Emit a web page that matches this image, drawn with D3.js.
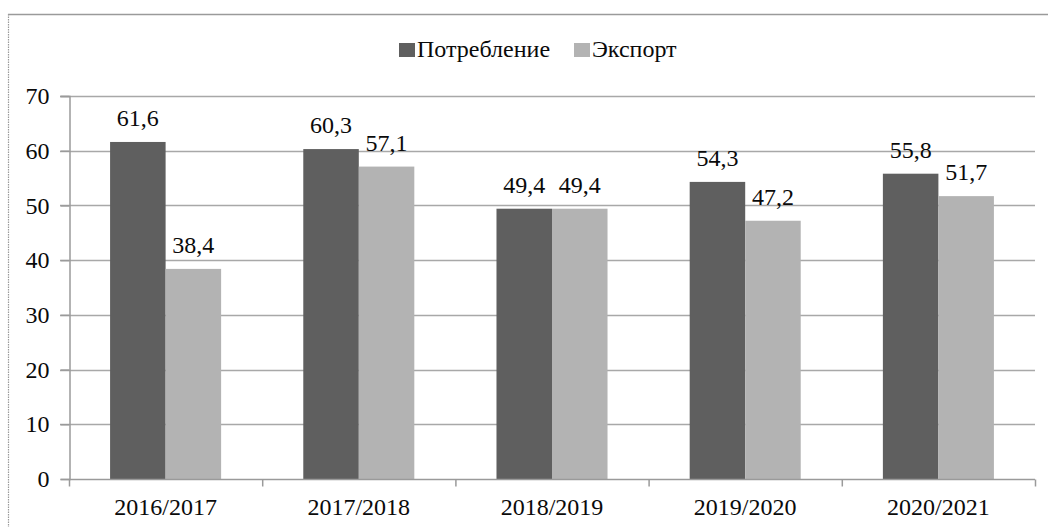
<!DOCTYPE html>
<html>
<head>
<meta charset="utf-8">
<script src="https://cdn.jsdelivr.net/npm/d3@7/dist/d3.min.js"></script>
<style>
  html, body { margin: 0; padding: 0; background: #fff; }
  svg { display: block; }
  svg text { font-family: "Liberation Serif", "DejaVu Serif", serif !important; }
</style>
</head>
<body>
<svg id="chart" width="1048" height="527"></svg>
<script>
const categories = ["2016/2017", "2017/2018", "2018/2019", "2019/2020", "2020/2021"];
const seriesNames = ["Потребление", "Экспорт"];
const consumption = [61.6, 60.3, 49.4, 54.3, 55.8];
const exportVals = [38.4, 57.1, 49.4, 47.2, 51.7];
const yTicks = [0, 10, 20, 30, 40, 50, 60, 70];
const colors = ["#5f5f5f", "#b3b3b3"];

(function () {
const FONT = "Liberation Serif";
const TXT = "#0a0a0a";
const seriesValues = [consumption, exportVals];
const svg = d3.select("#chart");

// frame
svg.append("line").attr("x1", 8).attr("x2", 1048).attr("y1", 14.5).attr("y2", 14.5)
  .attr("stroke", "#9a9a9a").attr("stroke-width", 1.5);
svg.append("line").attr("x1", 8.5).attr("x2", 8.5).attr("y1", 14).attr("y2", 527)
  .attr("stroke", "#9a9a9a").attr("stroke-width", 1.2).attr("stroke-dasharray", "1.5,1");

const mLeft = 69, mRight = 1035, mTop = 96, mBottom = 479;

const x0 = d3.scaleBand().domain(categories).range([mLeft, mRight]).paddingInner(0).paddingOuter(0);
const x1 = d3.scaleBand().domain(seriesNames).range([0, x0.bandwidth()]).paddingInner(0).paddingOuter(0.74);
const y = d3.scaleLinear().domain([0, 70]).range([mBottom, mTop]);

// gridlines
svg.append("g").selectAll("line").data(yTicks.filter(d => d > 0)).join("line")
  .attr("x1", mLeft - 9).attr("x2", mRight)
  .attr("y1", d => Math.round(y(d)) + 0.5).attr("y2", d => Math.round(y(d)) + 0.5)
  .attr("stroke", "#a8a8a8").attr("stroke-width", 1.5);

// y axis
const yAxis = svg.append("g").attr("transform", `translate(${mLeft + 0.5},0)`)
  .call(d3.axisLeft(y).tickValues(yTicks).tickSize(9).tickPadding(11).tickFormat(d3.format("d")))
  .attr("font-family", FONT).attr("font-size", 24);
yAxis.select(".domain").attr("stroke", "#9a9a9a").attr("stroke-width", 1.5);
yAxis.selectAll(".tick line").attr("stroke", "#9a9a9a").attr("stroke-width", 1.5);
yAxis.selectAll(".tick text").attr("font-size", 24).attr("fill", TXT).attr("font-family", FONT);

// bars
const groups = svg.append("g").selectAll("g").data(categories).join("g")
  .attr("transform", d => `translate(${x0(d)},0)`);
groups.selectAll("rect").data((d, i) => seriesNames.map((s, j) => ({ s, v: seriesValues[j][i], j })))
  .join("rect")
  .attr("x", d => x1(d.s)).attr("width", x1.bandwidth())
  .attr("y", d => y(d.v)).attr("height", d => y(0) - y(d.v))
  .attr("fill", d => colors[d.j]);

// value labels
groups.selectAll("text").data((d, i) => seriesNames.map((s, j) => ({ s, v: seriesValues[j][i], j })))
  .join("text")
  .attr("x", d => x1(d.s) + x1.bandwidth() / 2)
  .attr("y", d => y(d.v) - 16)
  .attr("text-anchor", "middle").attr("font-size", 24).attr("fill", TXT).attr("font-family", FONT)
  .text(d => d3.format(".1f")(d.v).replace(".", ","));

// x axis
const xAxisG = svg.append("g").attr("transform", `translate(0,${mBottom + 0.5})`);
xAxisG.append("line").attr("x1", mLeft).attr("x2", mRight).attr("stroke", "#9a9a9a").attr("stroke-width", 1.5);
const boundaries = categories.map(c => x0(c)).concat([mRight]);
xAxisG.selectAll("line.tk").data(boundaries).join("line").attr("class", "tk")
  .attr("x1", d => d + 0.5).attr("x2", d => d + 0.5).attr("y1", 0).attr("y2", 7)
  .attr("stroke", "#9a9a9a").attr("stroke-width", 1.5);
xAxisG.selectAll("text").data(categories).join("text")
  .attr("x", d => x0(d) + x0.bandwidth() / 2).attr("y", 35)
  .attr("text-anchor", "middle").attr("font-size", 24).attr("fill", TXT).attr("font-family", FONT)
  .text(d => d);

// legend
const legendItems = [{ name: seriesNames[0], x: 399, color: colors[0] }, { name: seriesNames[1], x: 574, color: colors[1] }];
const lg = svg.append("g").selectAll("g").data(legendItems).join("g")
  .attr("transform", d => `translate(${d.x},0)`);
lg.append("rect").attr("x", 0).attr("y", 43).attr("width", 16).attr("height", 14).attr("fill", d => d.color);
lg.append("text").attr("x", 18).attr("y", 57).attr("font-size", 24).attr("fill", TXT).attr("font-family", FONT)
  .text(d => d.name);
})();
</script>
</body>
</html>
